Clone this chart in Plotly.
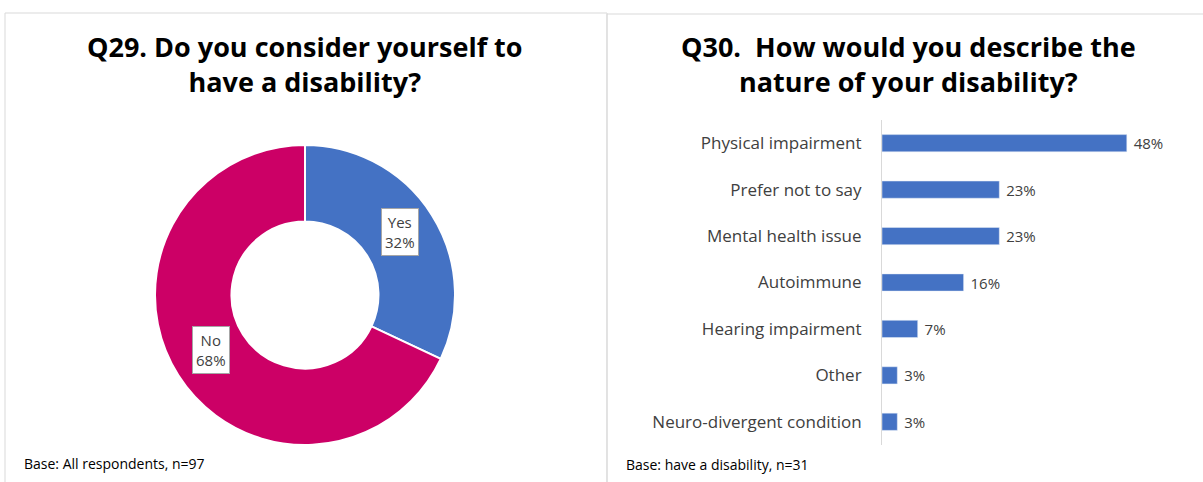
import plotly.graph_objects as go

W, H = 1203, 482

# Q29 donut data
q29_labels = ["Yes", "No"]
q29_values = [32, 68]
q29_colors = ["#4472C4", "#CC0066"]

# Q30 bar data (top to bottom)
q30_categories = [
    "Physical impairment",
    "Prefer not to say",
    "Mental health issue",
    "Autoimmune",
    "Hearing impairment",
    "Other",
    "Neuro-divergent condition",
]
q30_values = [48, 23, 23, 16, 7, 3, 3]

FONT = "Open Sans"


def px_x(x):
    return x / W


def px_y(y):
    return 1 - y / H


fig = go.Figure()

fig.add_trace(go.Pie(
    labels=q29_labels, values=q29_values,
    hole=0.49, sort=False, direction="clockwise", rotation=0,
    marker=dict(colors=q29_colors, line=dict(color="white", width=2)),
    textinfo="none", hoverinfo="label+percent", showlegend=False,
    domain=dict(x=[px_x(155), px_x(455)], y=[px_y(445), px_y(145)]),
))

fig.add_trace(go.Bar(
    x=q30_values, y=q30_categories, orientation="h",
    marker=dict(color="#4472C4"), width=0.37,
    text=[f" {v}%" for v in q30_values], textposition="outside",
    constraintext="none",
    textfont=dict(family=FONT, size=15, color="#404040"),
    cliponaxis=False, showlegend=False,
    xaxis="x", yaxis="y",
))

fig.update_layout(
    width=W, height=H,
    margin=dict(l=0, r=0, t=0, b=0),
    paper_bgcolor="white", plot_bgcolor="white",
    font=dict(family=FONT, color="#404040"),
    xaxis=dict(domain=[px_x(882), px_x(1188)], range=[0, 60],
               visible=False, fixedrange=True),
    yaxis=dict(domain=[px_y(445), px_y(120)],
               categoryorder="array", categoryarray=q30_categories[::-1],
               showline=True, linecolor="#D9D9D9", linewidth=1,
               ticks="", showgrid=False, ticklabelstandoff=16,
               tickfont=dict(family=FONT, size=17, color="#404040")),
)

# panel borders
fig.add_shape(type="rect", xref="paper", yref="paper",
              x0=px_x(5), x1=px_x(607), y0=px_y(490), y1=px_y(13),
              line=dict(color="#D9D9D9", width=1))
fig.add_shape(type="rect", xref="paper", yref="paper",
              x0=px_x(607), x1=px_x(1215), y0=px_y(490), y1=px_y(14),
              line=dict(color="#D9D9D9", width=1))

# titles
fig.add_annotation(xref="paper", yref="paper", x=px_x(305), y=px_y(64),
                   xanchor="center", yanchor="middle",
                   text="<b>Q29. Do you consider yourself to<br>have a disability?</b>",
                   showarrow=False, font=dict(family=FONT, size=27, color="black"),
                   align="center")
fig.add_annotation(xref="paper", yref="paper", x=px_x(908), y=px_y(64),
                   xanchor="center", yanchor="middle",
                   text="<b>Q30.  How would you describe the<br>nature of your disability?</b>",
                   showarrow=False, font=dict(family=FONT, size=27, color="black"),
                   align="center")

# donut labels
label_pos = [(400, 232), (211, 350)]
for lab, val, (lx, ly) in zip(q29_labels, q29_values, label_pos):
    fig.add_annotation(xref="paper", yref="paper", x=px_x(lx), y=px_y(ly),
                       xanchor="center", yanchor="middle",
                       text=f"{lab}<br>{val}%", showarrow=False,
                       font=dict(family=FONT, size=15, color="#404040"),
                       bgcolor="white", bordercolor="#A6A6A6", borderwidth=1,
                       borderpad=3, align="center")

# base notes
fig.add_annotation(xref="paper", yref="paper", x=px_x(22), y=px_y(463),
                   xanchor="left", yanchor="middle", text="Base: All respondents, n=97",
                   showarrow=False, font=dict(family=FONT, size=14, color="black"))
fig.add_annotation(xref="paper", yref="paper", x=px_x(624), y=px_y(464),
                   xanchor="left", yanchor="middle", text="Base: have a disability, n=31",
                   showarrow=False, font=dict(family=FONT, size=14, color="black"))

fig.write_html("out.html", config={"displayModeBar": False},
               post_script="document.body.style.margin='0';")
